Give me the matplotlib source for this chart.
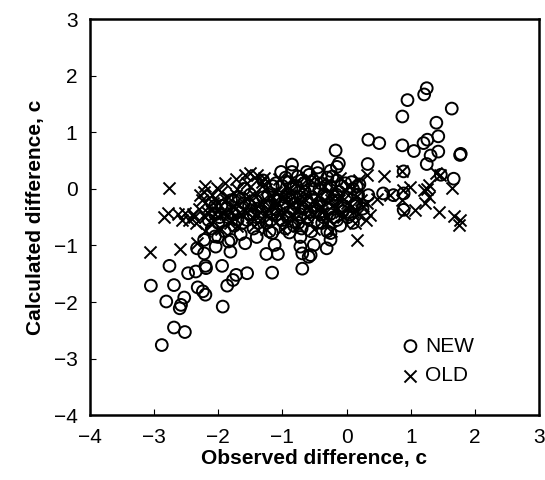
import matplotlib
matplotlib.use("Agg")
import matplotlib.pyplot as plt
import numpy as np

plt.rcParams['font.family'] = ['Liberation Sans', 'DejaVu Sans']

# NEW (circles): observed, calculated
new_x = [1.25, 1.21, 0.95, 1.64, 0.87, 1.40, 1.43, 0.34, 0.51, 1.26, 1.20, 0.87, 1.05, 1.43, 1.31,
         1.77, 1.78, 1.25, -0.17, -0.12, -0.15, 0.33, 1.47, 1.67, 0.89, -0.85, 0.57, 0.73, 0.89, 0.89,
         0.16, 0.34,
         -3.05, -2.76, -2.69, -2.81, -2.53, -2.58, -2.60, -2.69, -2.52, -2.88, -2.47, -2.35, -2.19, -2.20,
         -2.32, -2.24, -2.20, -1.94, -1.93, -1.86, -1.77, -1.72, -1.55, -1.16, -1.25, -1.07, -1.12, -0.69,
         -0.72, -0.69, -0.59, -0.56, -0.51, -0.31, -0.25, -2.04, -2.33, -2.22, -2.22, -1.81, -1.58, -1.84,
         -2.05, -0.89, -0.72, -1.16, -0.25,
         -2.15, -2.10, -2.05, -2.00, -1.95, -1.90, -1.85, -1.80, -1.75, -1.70, -1.65, -1.60, -1.55, -1.50,
         -1.45, -1.40, -1.35, -1.30, -1.25, -1.20, -1.15, -1.10, -1.05, -1.00, -0.95, -0.90, -0.88, -0.85,
         -0.80, -0.78, -0.75, -0.70, -0.68, -0.65, -0.60, -0.58, -0.55, -0.50, -0.48, -0.45, -0.42, -0.40,
         -0.38, -0.35, -0.30, -0.28, -0.25, -0.20, -0.18, -0.15, -0.12, -0.10, -0.05, -0.02, 0.00, 0.05,
         0.10, 0.15, 0.20, 0.25, -1.30, -1.60, -1.20, -0.95, -0.82, -0.55, -0.30, -1.80, -2.00, -1.40,
         -1.02, -0.62, -0.90, -1.15, -0.72, -0.40, -0.15, -1.50, -1.10, -0.85, -0.60, -0.30, 0.10, -0.45,
         -0.25,
         -2.10, -1.98, -1.88, -1.78, -1.68, -1.62, -1.52, -1.42, -1.38, -1.32, -1.22, -1.18, -1.12, -1.08,
         -0.98, -0.92, -0.86, -0.82, -0.76, -0.72, -0.66, -0.62, -0.56, -0.52, -0.46, -0.42, -0.36, -0.32,
         -0.26, -0.22, -0.16, -0.08, -0.06, 0.02, 0.08, 0.12, 0.18, -1.00, -1.25, -0.70, -0.45, -0.95,
         -1.45, -1.70, -2.05]
new_y = [1.78, 1.67, 1.57, 1.42, 1.28, 1.17, 0.93, 0.87, 0.81, 0.87, 0.81, 0.77, 0.67, 0.66, 0.59,
         0.60, 0.62, 0.44, 0.68, 0.45, 0.39, 0.44, 0.25, 0.18, 0.31, 0.43, -0.08, -0.11, -0.08, -0.37,
         0.04, -0.11,
         -1.71, -1.36, -1.70, -1.99, -1.92, -2.05, -2.11, -2.45, -2.53, -2.76, -1.49, -1.46, -1.40, -1.36,
         -1.74, -1.81, -1.87, -1.36, -2.08, -1.71, -1.61, -1.52, -1.49, -1.48, -1.15, -1.15, -0.99, -1.41,
         -1.02, -1.14, -1.20, -1.17, -0.99, -1.05, -0.90, -1.02, -1.05, -1.14, -0.90, -1.11, -0.96, -0.93,
         -0.84, -0.77, -0.85, -0.78, -0.78,
         -0.55, -0.70, -0.45, -0.60, -0.30, -0.75, -0.50, -0.20, -0.65, -0.40, -0.80, -0.25, -0.55, -0.10,
         -0.70, -0.35, -0.50, -0.15, -0.60, -0.30, -0.45, 0.10, -0.20, -0.55, 0.20, -0.10, -0.40, 0.30,
         -0.25, 0.05, -0.60, 0.15, -0.35, -0.05, -0.50, 0.25, -0.15, 0.00, -0.40, 0.28, -0.25, 0.10,
         -0.60, -0.10, 0.20, -0.35, 0.05, -0.50, -0.20, 0.15, -0.05, -0.65, -0.30, 0.10, -0.15, -0.45,
         0.00, -0.25, 0.08, -0.35, 0.15, 0.00, -0.75, -0.70, -0.65, -0.75, -0.75, -0.90, -0.85, -0.85,
         0.30, 0.30, 0.12, 0.05, -0.15, -0.45, -0.55, -0.45, -0.35, -0.15, -0.25, -0.15, -0.60, 0.38,
         0.32,
         -0.25, -0.50, -0.35, -0.45, -0.15, -0.60, -0.30, -0.20, -0.60, -0.40, -0.10, -0.55, -0.20, -0.45,
         -0.30, -0.50, 0.00, -0.35, 0.22, -0.45, 0.10, -0.20, -0.40, 0.15, -0.30, 0.00, -0.50, 0.05,
         -0.45, 0.22, -0.10, 0.05, -0.40, -0.50, 0.12, -0.30, -0.10, 0.05, -0.30, -0.70, -0.60, -0.15,
         -0.45, -0.55, -0.30]

# OLD (crosses): observed, calculated
old_x = [-2.76, -2.85, -2.78, -2.63, -2.52, -2.56, -3.06, -2.59, -2.38, -2.33, -2.22, -2.02, -1.72, -1.50,
         -1.40, -1.32, 0.16, 0.13, 0.32, 0.58, 0.87, 0.88, 0.86, 0.89, 1.07, 1.20, 1.25, 1.28, 1.22, 1.45,
         1.40, 1.44, 1.64, 1.67, 1.77, 1.76, 0.37, 0.47, 0.32, 0.68, 0.99, 1.29,
         -2.30, -2.25, -2.20, -2.15, -2.10, -2.05, -2.00, -1.95, -1.90, -1.85, -1.80, -1.75, -1.70, -1.65,
         -1.60, -1.55, -1.50, -1.45, -1.40, -1.35, -1.30, -1.25, -1.20, -1.15, -1.10, -1.05, -1.00, -0.95,
         -0.90, -0.85, -0.80, -0.75, -0.70, -0.65, -0.60, -0.55, -0.50, -0.45, -0.40, -0.35, -0.30, -0.25,
         -0.20, -0.15, -0.10, -0.05, 0.00, 0.05, 0.10, 0.15, 0.20, 0.25, 0.30, -2.35, -2.20, -1.95, -1.70,
         -1.45, -1.25, -1.00, -0.75, -0.50, -0.25, -2.40, -2.45, -1.58, -1.28, -1.90, -2.20, -0.10, -0.60,
         -1.05,
         -2.28, -2.18, -2.08, -1.98, -1.88, -1.78, -1.72, -1.62, -1.52, -1.48, -1.38, -1.32, -1.22, -1.18,
         -1.08, -1.02, -0.92, -0.88, -0.78, -0.72, -0.62, -0.58, -0.48, -0.42, -0.38, -0.28, -0.22, -0.12,
         -0.08, 0.02, 0.08, 0.18, 0.22, -2.12, -1.82, -1.35, -0.95, -0.68, -0.32]
old_y = [0.01, -0.49, -0.43, -0.44, -0.43, -0.55, -1.12, -1.07, -0.49, -0.96, -0.06, 0.01, 0.18, 0.28,
         0.25, 0.13, -0.91, -0.61, 0.25, 0.22, 0.32, -0.02, -0.19, -0.43, -0.37, -0.02, 0.00, -0.14, -0.25,
         0.25, 0.28, -0.40, 0.01, -0.47, -0.55, -0.64, -0.46, -0.17, -0.25, -0.11, 0.04, 0.07,
         -0.35, -0.20, -0.50, -0.30, -0.10, -0.45, -0.25, -0.05, -0.40, -0.15, -0.55, -0.30, 0.00, -0.45,
         -0.20, 0.10, -0.35, -0.10, 0.15, -0.40, -0.20, 0.00, -0.50, -0.25, -0.05, -0.40, -0.15, 0.05,
         -0.30, -0.50, 0.10, -0.20, -0.40, 0.00, -0.30, 0.15, -0.45, -0.10, -0.30, 0.05, -0.50, -0.20,
         0.00, -0.35, -0.10, -0.50, -0.25, 0.05, -0.40, -0.15, 0.15, -0.30, -0.55, -0.60, -0.75, -0.70,
         -0.65, -0.65, -0.70, -0.70, -0.65, -0.70, -0.75, -0.45, -0.55, 0.25, 0.20, 0.10, 0.05, 0.20, 0.20,
         0.18,
         -0.10, -0.40, -0.25, -0.45, -0.20, -0.40, -0.10, -0.35, -0.15, -0.50, -0.30, 0.05, -0.35, -0.10,
         -0.25, -0.50, -0.15, -0.05, -0.35, -0.10, -0.50, -0.15, -0.25, 0.10, -0.40, -0.10, -0.30, -0.20,
         -0.40, -0.10, -0.30, -0.45, -0.20, -0.60, -0.60, -0.55, -0.55, -0.55, -0.60]

ticks = [-4, -3, -2, -1, 0, 1, 2, 3]
tick_labels = ['\u22124', '\u22123', '\u22122', '\u22121', '0', '1', '2', '3']

fig = plt.figure(figsize=(5.45, 4.8), dpi=100)
ax = fig.add_axes([0.165, 0.135, 0.824, 0.825])

ax.scatter(new_x, new_y, s=72, facecolors='none', edgecolors='black', linewidths=1.4,
           marker='o', label='NEW')
ax.scatter(old_x, old_y, s=75, c='black', linewidths=1.4, marker='x', label='OLD')

ax.set_xlim(-4, 3)
ax.set_ylim(-4, 3)
ax.set_xticks(ticks)
ax.set_yticks(ticks)
ax.set_xticklabels(tick_labels)
ax.set_yticklabels(tick_labels)
ax.tick_params(direction='in', length=4, width=0.8, labelsize=15, pad=9,
               top=False, right=False)
for sp in ax.spines.values():
    sp.set_linewidth(1.8)

ax.set_xlabel('Observed difference, c', fontsize=15, fontweight='bold', labelpad=2)
ax.set_ylabel('Calculated difference, c', fontsize=15, fontweight='bold', labelpad=6)

ax.legend(loc='lower left', bbox_to_anchor=(0.672, 0.05), frameon=False, fontsize=15,
          handlelength=0.8, handletextpad=0.3, borderpad=0, labelspacing=0.5,
          scatterpoints=1)

fig.savefig('out.png', dpi=100)
